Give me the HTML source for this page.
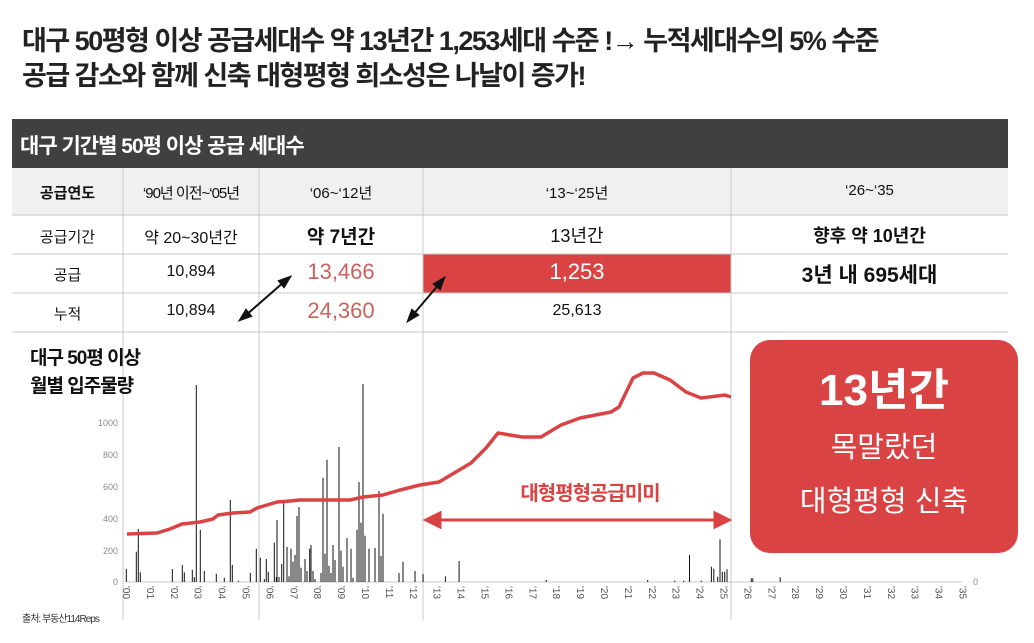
<!DOCTYPE html>
<html><head><meta charset="utf-8">
<style>
body{margin:0;width:1034px;height:643px;background:#fff;overflow:hidden;position:relative;font-family:"Liberation Sans","Noto Sans CJK KR",sans-serif;}
.a{position:absolute;white-space:nowrap}
.t{font-weight:bold;font-size:27px;color:#222;letter-spacing:-1.5px;left:22px}
.c{position:absolute;text-align:center;white-space:nowrap;color:#111}
</style></head><body>
<div class="a t" style="top:19px">대구 50평형 이상 공급세대수 약 13년간 1,253세대 수준 !→ 누적세대수의 5% 수준</div>
<div class="a t" style="top:54px">공급 감소와 함께 신축 대형평형 희소성은 나날이 증가!</div>
<svg class="a" style="left:0;top:0" width="1034" height="643">
<rect x="12" y="119" width="996" height="49" fill="#404040"/>
<rect x="12" y="168" width="996" height="47" fill="#f0f0f0"/>
<rect x="423" y="254" width="308" height="39" fill="#d94343"/>
<g stroke="#c8c8c8" stroke-width="1">
<line x1="12" y1="215" x2="1008" y2="215"/><line x1="12" y1="254" x2="1008" y2="254"/>
<line x1="12" y1="293" x2="1008" y2="293"/><line x1="12" y1="332" x2="1008" y2="332"/>
<line x1="123" y1="168" x2="123" y2="620"/><line x1="259" y1="168" x2="259" y2="620"/>
<line x1="423" y1="168" x2="423" y2="620"/><line x1="731" y1="168" x2="731" y2="620"/>
<line x1="127" y1="582" x2="962" y2="582"/>
</g>
<g id="bars" stroke="#111" stroke-width="1"></g>
<polyline fill="none" stroke="#d94343" stroke-width="3.5" stroke-linejoin="round" points="127,534 157,533 170,529 182,524 200,522 213,519 218,515 233,513 250,512 257,508 277,502 290,501 300,500 350,500 363,497 383,495 400,490 420,485 439,482 471,463 486,448 498,433 522,437 541,437 561,425 580,418 611,412 619,407 633,378 643,373 654,373 670,380 686,392 701,398 717,396 725,395 731,397"/>
<g stroke="#d94343" stroke-width="3" fill="#d94343">
<line x1="436" y1="520" x2="719" y2="520"/>
<polygon points="426,520 440,513 440,527"/><polygon points="729,520 715,513 715,527"/>
</g>
<g stroke="#111" stroke-width="2" fill="#111">
<line x1="245" y1="316" x2="285" y2="281"/><polygon points="240,320 246,310 251,316"/><polygon points="290,277 284,287 279,281"/>
<line x1="412" y1="316" x2="440" y2="283"/><polygon points="408,321 412,310 418,315"/><polygon points="444,278 440,289 434,284"/>
</g>
<g font-size="9" fill="#888" text-anchor="end" font-family="Liberation Sans">
<text x="118" y="426">1000</text><text x="118" y="458">800</text><text x="118" y="490">600</text><text x="118" y="522">400</text><text x="118" y="554">200</text><text x="118" y="585">0</text>
<text x="978" y="585">0</text>
</g>
<g id="yrs" font-size="10" fill="#555" font-family="Liberation Sans"></g>
<rect x="750" y="340" width="268" height="213" rx="20" fill="#d94343"/>
<g fill="#fff" text-anchor="middle" font-family="Liberation Sans,Noto Sans CJK KR">
<text x="884" y="405" font-size="44" font-weight="bold">13년간</text>
<text x="884" y="457" font-size="29">목말랐던</text>
<text x="884" y="511" font-size="29">대형평형 신축</text>
</g>
<text x="590" y="500" font-size="20" font-weight="bold" fill="#d94343" text-anchor="middle" letter-spacing="-1">대형평형공급미미</text>
</svg>
<div class="a" style="left:20px;top:130px;color:#fff;font-size:21px;font-weight:bold;letter-spacing:-1px">대구 기간별 50평 이상 공급 세대수</div>
<div class="c" style="left:12px;width:111px;top:182px;font-size:15px;font-weight:bold">공급연도</div>
<div class="c" style="left:123px;width:136px;top:182px;font-size:15px;letter-spacing:-1px">‘90년 이전~‘05년</div>
<div class="c" style="left:259px;width:164px;top:182px;font-size:15px">‘06~‘12년</div>
<div class="c" style="left:423px;width:308px;top:182px;font-size:15px">‘13~‘25년</div>
<div class="c" style="left:731px;width:277px;top:182px;font-size:15px">‘26~‘35</div>
<div class="c" style="left:12px;width:111px;top:226px;font-size:15px">공급기간</div>
<div class="c" style="left:123px;width:136px;top:224px;font-size:16px">약 20~30년간</div>
<div class="c" style="left:259px;width:164px;top:222px;font-size:19px;font-weight:bold">약 7년간</div>
<div class="c" style="left:423px;width:308px;top:222px;font-size:18px">13년간</div>
<div class="c" style="left:731px;width:277px;top:222px;font-size:18px;font-weight:bold">향후 약 10년간</div>
<div class="c" style="left:12px;width:111px;top:264px;font-size:15px">공급</div>
<div class="c" style="left:123px;width:136px;top:263px;font-size:16px">10,894</div>
<div class="c" style="left:259px;width:164px;top:259px;font-size:22px;color:#c9625c">13,466</div>
<div class="c" style="left:423px;width:308px;top:259px;font-size:22px;color:#fff">1,253</div>
<div class="c" style="left:731px;width:277px;top:259px;font-size:21px;font-weight:bold">3년 내 695세대</div>
<div class="c" style="left:12px;width:111px;top:303px;font-size:15px">누적</div>
<div class="c" style="left:123px;width:136px;top:302px;font-size:16px">10,894</div>
<div class="c" style="left:259px;width:164px;top:298px;font-size:22px;color:#c9625c">24,360</div>
<div class="c" style="left:423px;width:308px;top:302px;font-size:16px">25,613</div>
<div class="a" style="left:30px;top:345px;font-size:19px;font-weight:bold;letter-spacing:-1px;line-height:28px;color:#111">대구 50평 이상<br>월별 입주물량</div>
<div class="a" style="left:22px;top:610px;font-size:10px;color:#333;letter-spacing:-1px">출처: 부동산114Reps</div>
<script>
var b1=[[379,717],[409,665],[415,597],[421,727],[517,717],[547,705],[553,727],[577,719],[583,741],[589,165],[601,599],[613,723],[649,731],[673,743],[691,510],[697,705],[715,752],[751,729],[769,656],[781,683],[793,747],[799,687],[805,725],[823,638],[829,741],[831,570],[837,741],[845,702],[851,516],[861,651],[867,739],[873,656],[879,695],[885,675],[891,558],[897,531],[903,713],[915,687],[921,723],[929,656],[933,645],[939,723],[945,747],[963,729],[969,443],[975,671],[981,389],[987,707],[993,729],[999,645],[1005,690],[1017,351],[1023,662],[1029,710],[1041,624],[1053,656],[1059,743],[1071,599],[1077,456],[1083,578],[1089,162],[1095,617],[1107,656],[1125,654],[1137,483],[1143,678],[1149,551],[1197,729],[1209,695],[1245,723],[1269,733]];
var b2=[[8,733],[65,739],[100,693],[323,750],[583,750],[652,752],[675,752],[690,675],[720,752],[746,710],[752,716],[762,740],[768,628],[774,725],[780,725],[786,718],[848,745],[852,745],[922,742]];
var s='';
b1.forEach(function(p){var x=(p[0]/3).toFixed(1),y=(330+p[1]/3).toFixed(1);s+='<line x1="'+x+'" x2="'+x+'" y1="582" y2="'+y+'"/>';});
b2.forEach(function(p){var x=(420+p[0]/2.56).toFixed(1),y=(330+p[1]/3).toFixed(1);s+='<line x1="'+x+'" x2="'+x+'" y1="582" y2="'+y+'"/>';});
document.getElementById('bars').innerHTML=s;
var t='';
for(var i=0;i<=35;i++){var x=127+i*23.9;var l="'"+(i<10?'0':'')+i;t+='<text transform="translate('+(x-4)+',586) rotate(90)">'+l+'</text>';}
document.getElementById('yrs').innerHTML=t;
</script>
</body></html>
